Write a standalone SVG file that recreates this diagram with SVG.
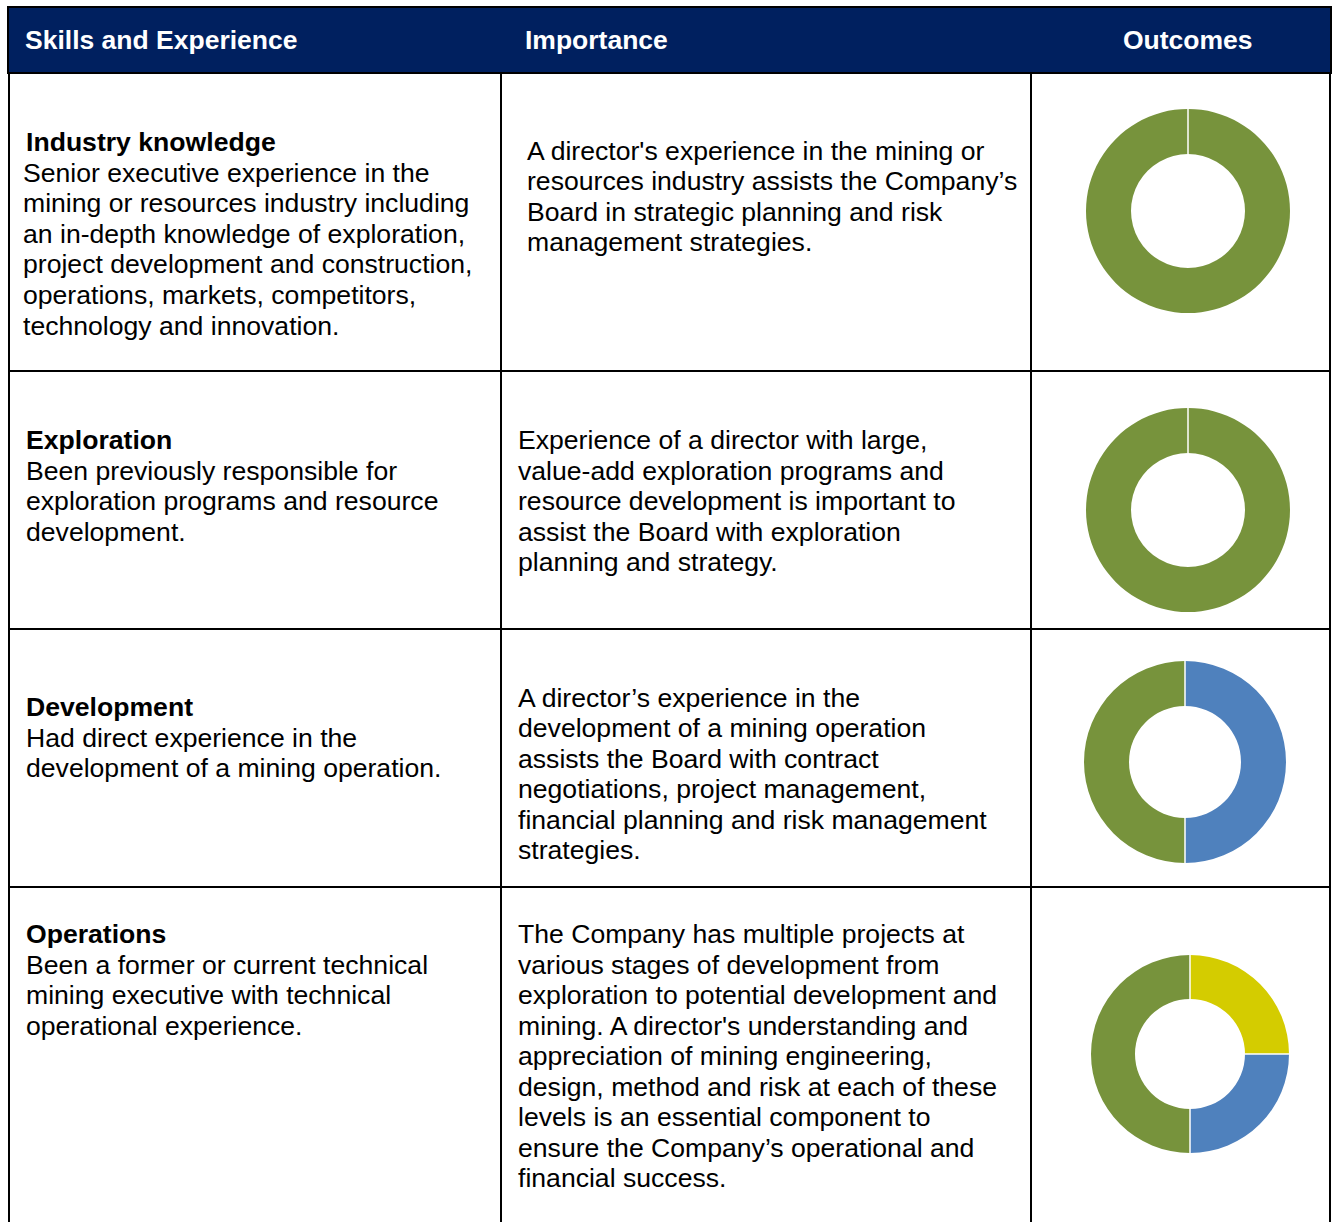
<svg xmlns="http://www.w3.org/2000/svg" width="1336" height="1222" viewBox="0 0 1336 1222">
<style>
.hd{font-family:"Liberation Sans",Arial,sans-serif;font-size:26.5px;font-weight:bold;fill:#ffffff}
.t{font-family:"Liberation Sans",Arial,sans-serif;font-size:26.6px;fill:#000000}
.b{font-weight:bold}
.ln{stroke:#000000;stroke-width:2;fill:none}
.g{fill:#77933C}
.bl{fill:#4F81BD}
.y{fill:#D4CC00}
.sep{stroke:#ffffff;stroke-width:1.5;fill:none}
</style>
<rect x="0" y="0" width="1336" height="1222" fill="#ffffff"/>
<g id="header">
<rect x="8" y="7" width="1323" height="66" fill="#00205F" stroke="#000000" stroke-width="2"/>
<text class="hd" x="25" y="49">Skills and Experience</text>
<text class="hd" x="525" y="49">Importance</text>
<text class="hd" x="1123" y="49">Outcomes</text>
</g>
<g id="grid">
<line class="ln" x1="9" y1="72" x2="9" y2="1222"/>
<line class="ln" x1="1330" y1="72" x2="1330" y2="1222"/>
<line class="ln" x1="501" y1="72" x2="501" y2="1222"/>
<line class="ln" x1="1031" y1="72" x2="1031" y2="1222"/>
<line class="ln" x1="8" y1="371" x2="1331" y2="371"/>
<line class="ln" x1="8" y1="629" x2="1331" y2="629"/>
<line class="ln" x1="8" y1="887" x2="1331" y2="887"/>
</g>
<g id="row-industry">
<text class="t"><tspan class="b" x="26" y="151">Industry knowledge</tspan><tspan x="23" y="181.5">Senior executive experience in the</tspan><tspan x="23" y="212">mining or resources industry including</tspan><tspan x="23" y="242.5">an in-depth knowledge of exploration,</tspan><tspan x="23" y="273">project development and construction,</tspan><tspan x="23" y="304">operations, markets, competitors,</tspan><tspan x="23" y="334.5">technology and innovation.</tspan></text>
<text class="t"><tspan x="527" y="159.5">A director's experience in the mining or</tspan><tspan x="527" y="190">resources industry assists the Company’s</tspan><tspan x="527" y="220.5">Board in strategic planning and risk</tspan><tspan x="527" y="251">management strategies.</tspan></text>
<g id="donut-industry">
<path class="g" fill-rule="evenodd" d="M1188,109 A102,102 0 1 1 1187.99,109 Z M1188,154 A57,57 0 1 0 1188.01,154 Z"/>
<line class="sep" x1="1188" y1="109" x2="1188" y2="154"/>
</g>
</g>
<g id="row-exploration">
<text class="t"><tspan class="b" x="26" y="449">Exploration</tspan><tspan x="26" y="479.5">Been previously responsible for</tspan><tspan x="26" y="510">exploration programs and resource</tspan><tspan x="26" y="540.5">development.</tspan></text>
<text class="t"><tspan x="518" y="449">Experience of a director with large,</tspan><tspan x="518" y="479.5">value-add exploration programs and</tspan><tspan x="518" y="510">resource development is important to</tspan><tspan x="518" y="540.5">assist the Board with exploration</tspan><tspan x="518" y="571">planning and strategy.</tspan></text>
<g id="donut-exploration">
<path class="g" fill-rule="evenodd" d="M1188,408 A102,102 0 1 1 1187.99,408 Z M1188,453 A57,57 0 1 0 1188.01,453 Z"/>
<line class="sep" x1="1188" y1="408" x2="1188" y2="453"/>
</g>
</g>
<g id="row-development">
<text class="t"><tspan class="b" x="26" y="716">Development</tspan><tspan x="26" y="746.5">Had direct experience in the</tspan><tspan x="26" y="777">development of a mining operation.</tspan></text>
<text class="t"><tspan x="518" y="706.5">A director’s experience in the</tspan><tspan x="518" y="737">development of a mining operation</tspan><tspan x="518" y="767.5">assists the Board with contract</tspan><tspan x="518" y="798">negotiations, project management,</tspan><tspan x="518" y="828.5">financial planning and risk management</tspan><tspan x="518" y="859">strategies.</tspan></text>
<g id="donut-development">
<path class="bl" d="M1185,661 A101,101 0 0 1 1185,863 L1185,818 A56,56 0 0 0 1185,706 Z"/>
<path class="g" d="M1185,863 A101,101 0 0 1 1185,661 L1185,706 A56,56 0 0 0 1185,818 Z"/>
<line class="sep" x1="1185" y1="661" x2="1185" y2="706"/>
<line class="sep" x1="1185" y1="818" x2="1185" y2="863"/>
</g>
</g>
<g id="row-operations">
<text class="t"><tspan class="b" x="26" y="943">Operations</tspan><tspan x="26" y="973.5">Been a former or current technical</tspan><tspan x="26" y="1004">mining executive with technical</tspan><tspan x="26" y="1034.5">operational experience.</tspan></text>
<text class="t"><tspan x="518" y="943">The Company has multiple projects at</tspan><tspan x="518" y="973.5">various stages of development from</tspan><tspan x="518" y="1004">exploration to potential development and</tspan><tspan x="518" y="1034.5">mining. A director's understanding and</tspan><tspan x="518" y="1065">appreciation of mining engineering,</tspan><tspan x="518" y="1095.5">design, method and risk at each of these</tspan><tspan x="518" y="1126">levels is an essential component to</tspan><tspan x="518" y="1156.5">ensure the Company’s operational and</tspan><tspan x="518" y="1187">financial success.</tspan></text>
<g id="donut-operations">
<path class="y" d="M1190,955 A99,99 0 0 1 1289,1054 L1245,1054 A55,55 0 0 0 1190,999 Z"/>
<path class="bl" d="M1289,1054 A99,99 0 0 1 1190,1153 L1190,1109 A55,55 0 0 0 1245,1054 Z"/>
<path class="g" d="M1190,1153 A99,99 0 0 1 1190,955 L1190,999 A55,55 0 0 0 1190,1109 Z"/>
<line class="sep" x1="1190" y1="955" x2="1190" y2="999"/>
<line class="sep" x1="1245" y1="1054" x2="1289" y2="1054"/>
<line class="sep" x1="1190" y1="1109" x2="1190" y2="1153"/>
</g>
</g>
</svg>
